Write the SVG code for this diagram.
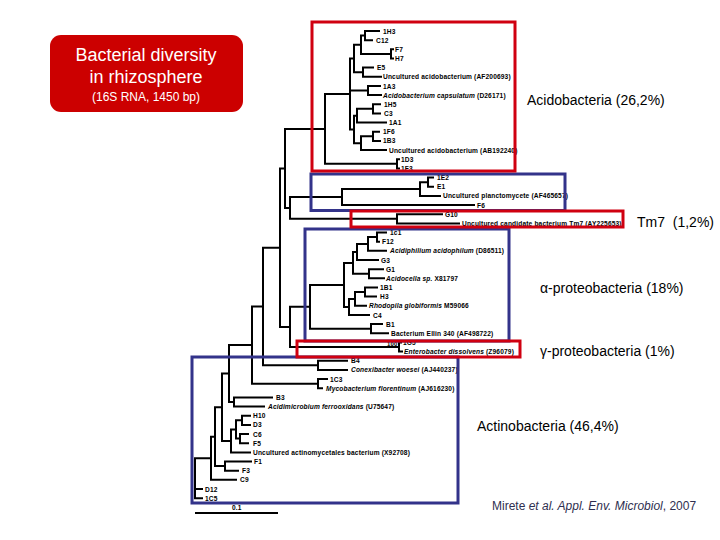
<svg xmlns="http://www.w3.org/2000/svg" width="720" height="540" viewBox="0 0 720 540">
<style>
.br{stroke:#000;stroke-width:2;fill:none;stroke-linecap:square}
.lf{font-family:"Liberation Sans",Arial,sans-serif;font-size:6.6px;font-weight:bold;letter-spacing:0.15px;fill:#000}
.big{font-family:"Liberation Sans",Arial,sans-serif;font-size:14px;fill:#000}
.rb{fill:none;stroke:#d00010;stroke-width:3}
.bb{fill:none;stroke:#33338a;stroke-width:3}
.tt{font-family:"Liberation Sans",Arial,sans-serif;fill:#fff;text-anchor:middle}
</style>
<rect width="720" height="540" fill="#fff"/>
<g id="title">
<rect x="50" y="35" width="193" height="77" rx="11" fill="#cc0000"/>
<text class="tt" x="146" y="61" font-size="18">Bacterial diversity</text>
<text class="tt" x="146" y="83" font-size="18">in rhizosphere</text>
<text class="tt" x="146" y="101" font-size="12">(16S RNA, 1450 bp)</text>
</g>
<g id="connectors" class="br">
<path d="M365 31V40.2M365 31H379M365 40.2H372"/>
<path d="M391 49.3V58.5M391 49.3H393M391 58.5H393"/>
<path d="M361 35.6V53.9M361 35.6H365M361 53.9H391"/>
<path d="M363 67.6V76.8M363 67.6H373M363 76.8H381"/>
<path d="M354 44.75V72.2M354 44.75H361M354 72.2H363"/>
<path d="M368 86V95.1M368 86H380M368 95.1H381"/>
<path d="M373 104.3V113.4M373 104.3H380M373 113.4H380"/>
<path d="M357 108.85V122.6M357 108.85H373M357 122.6H386"/>
<path d="M373 131.8V140.9M373 131.8H379M373 140.9H380"/>
<path d="M361 136.35V150.1M361 136.35H373M361 150.1H386"/>
<path d="M354 115.7V143.2M354 115.7H357M354 143.2H361"/>
<path d="M350 58.5V129.45M350 58.5H354M350 90.55H368M350 129.45H354"/>
<path d="M397 159.2V168.4M397 159.2H399M397 168.4H399"/>
<path d="M325 94V163.8M325 94H350M325 163.8H397"/>
<path d="M428 177.6V186.7M428 177.6H433M428 186.7H433"/>
<path d="M420 182.15V195.9M420 182.15H428M420 195.9H440"/>
<path d="M342 189V205M342 189H420M342 205H474"/>
<path d="M397 214.2V223.4M397 214.2H442M397 223.4H459"/>
<path d="M290 197V218.8M290 197H342M290 218.8H397"/>
<path d="M285 128.9V207.9M285 128.9H325M285 207.9H290"/>
<path d="M377 232.5V241.7M377 232.5H386M377 241.7H379"/>
<path d="M368 237.1V250.8M368 237.1H377M368 250.8H386"/>
<path d="M357 243.95V260M357 243.95H368M357 260H378"/>
<path d="M369 269.2V278.3M369 269.2H383M369 278.3H384"/>
<path d="M353 252V273.75M353 252H357M353 273.75H369"/>
<path d="M365 287.5V296.6M365 287.5H377M365 296.6H376"/>
<path d="M355 292.05V305.8M355 292.05H365M355 305.8H366"/>
<path d="M349 298.9V315M349 298.9H355M349 315H369"/>
<path d="M344 262.9V307M344 262.9H353M344 307H349"/>
<path d="M371 324.1V333.3M371 324.1H382M371 333.3H388"/>
<path d="M310 284.95V328.7M310 284.95H344M310 328.7H371"/>
<path d="M399 342.4V351.6M399 342.4H401M399 351.6H402"/>
<path d="M290 306.8V347M290 306.8H310M290 347H399"/>
<path d="M280 168.4V326.9M280 168.4H285M280 326.9H290"/>
<path d="M318 360.8V369.9M318 360.8H347M318 369.9H347"/>
<path d="M263 247.65V365.35M263 247.65H280M263 365.35H318"/>
<path d="M318 379.1V388.2M318 379.1H327M318 388.2H322"/>
<path d="M252 306.5V383.65M252 306.5H263M252 383.65H318"/>
<path d="M234 397.4V406.6M234 397.4H272M234 406.6H264"/>
<path d="M229 345.1V402M229 345.1H252M229 402H234"/>
<path d="M242 415.7V424.9M242 415.7H250M242 424.9H250"/>
<path d="M240 434V443.2M240 434H248M240 443.2H248"/>
<path d="M236 420.3V438.6M236 420.3H242M236 438.6H240"/>
<path d="M231 429.45V452.4M231 429.45H236M231 452.4H250"/>
<path d="M222 373.55V440.9M222 373.55H229M222 440.9H231"/>
<path d="M225 461.5V470.7M225 461.5H251M225 470.7H238"/>
<path d="M215 407.2V466.1M215 407.2H222M215 466.1H225"/>
<path d="M211 436.65V479.8M211 436.65H215M211 479.8H236"/>
<path d="M195 458.2V498.2M195 458.2H211M195 489H202M195 498.2H202"/>
<path d="M196 513H277"/>
</g>
<g id="leaves" class="lf">
<text id="n1H3" x="383" y="33.5">1H3</text>
<text id="nC12" x="376" y="42.7">C12</text>
<text id="nF7" x="395" y="51.8">F7</text>
<text id="nH7" x="395" y="61">H7</text>
<text id="nE5" x="377" y="70.1">E5</text>
<text id="nAF200693" x="383" y="79.3">Uncultured acidobacterium (AF200693)</text>
<text id="n1A3" x="383" y="88.5">1A3</text>
<text id="nD26171" x="383" y="97.6"><tspan font-style="italic">Acidobacterium capsulatum</tspan> (D26171)</text>
<text id="n1H5" x="384" y="106.8">1H5</text>
<text id="nC3" x="384" y="115.9">C3</text>
<text id="n1A1" x="389" y="125.1">1A1</text>
<text id="n1F6" x="383" y="134.3">1F6</text>
<text id="n1B3" x="383" y="143.4">1B3</text>
<text id="nAB192240" x="389" y="152.6">Uncultured acidobacterium (AB192240)</text>
<text id="n1D3" x="401" y="161.7">1D3</text>
<text id="n1F3" x="401" y="170.9">1F3</text>
<text id="n1E2" x="437" y="180.1">1E2</text>
<text id="nE1" x="437" y="189.2">E1</text>
<text id="nAF465657" x="443" y="198.4">Uncultured planctomycete (AF465657)</text>
<text id="nF6" x="477" y="207.5">F6</text>
<text id="nG10" x="445" y="216.7">G10</text>
<text id="nAY225653" x="462" y="225.9">Uncultured candidate bacterium Tm7 (AY225653)</text>
<text id="n1c1" x="390" y="235">1c1</text>
<text id="nF12" x="382" y="244.2">F12</text>
<text id="nD86511" x="390" y="253.3"><tspan font-style="italic">Acidiphilium acidophilum</tspan> (D86511)</text>
<text id="nG3" x="381" y="262.5">G3</text>
<text id="nG1" x="386" y="271.7">G1</text>
<text id="nX81797" x="386" y="280.8"><tspan font-style="italic">Acidocella sp.</tspan> X81797</text>
<text id="n1B1" x="380" y="290">1B1</text>
<text id="nH3" x="380" y="299.1">H3</text>
<text id="nM59066" x="369" y="308.3"><tspan font-style="italic">Rhodopila globiformis</tspan> M59066</text>
<text id="nC4" x="373" y="317.5">C4</text>
<text id="nB1" x="386" y="326.6">B1</text>
<text id="nAF498722" x="391" y="335.8">Bacterium Ellin 340 (AF498722)</text>
<text id="n1G5" x="403" y="344.9">1G5</text>
<text x="387" y="346" font-size="6">100</text>
<text id="nZ96079" x="404" y="354.1"><tspan font-style="italic">Enterobacter dissolvens</tspan> (Z96079)</text>
<text id="nB4" x="351" y="363.3">B4</text>
<text id="nAJ440237" x="351" y="372.4"><tspan font-style="italic">Conexibacter woesei</tspan> (AJ440237)</text>
<text id="n1C3" x="330" y="381.6">1C3</text>
<text id="nAJ616230" x="326" y="390.7"><tspan font-style="italic">Mycobacterium florentinum</tspan> (AJ616230)</text>
<text id="nB3" x="276" y="399.9">B3</text>
<text id="nU75647" x="268" y="409.1"><tspan font-style="italic">Acidimicrobium ferrooxidans</tspan> (U75647)</text>
<text id="nH10" x="253" y="418.2">H10</text>
<text id="nD3" x="253" y="427.4">D3</text>
<text id="nC6" x="253" y="436.5">C6</text>
<text id="nF5" x="253" y="445.7">F5</text>
<text id="nX92708" x="253" y="454.9">Uncultured actinomycetales bacterium (X92708)</text>
<text id="nF1" x="254" y="464">F1</text>
<text id="nF3" x="242" y="473.2">F3</text>
<text id="nC9" x="240" y="482.3">C9</text>
<text id="nD12" x="205" y="491.5">D12</text>
<text id="n1C5" x="205" y="500.7">1C5</text>
<text id="scale" x="232" y="509.5">0.1</text>
</g>
<g id="clades">
<rect id="boxPlancto" class="bb" x="311" y="174" width="254" height="36.5"/>
<rect id="boxAlpha" class="bb" x="305" y="229" width="204" height="112"/>
<rect id="boxActino" class="bb" x="192" y="357" width="266" height="146"/>
<rect id="boxAcido" class="rb" x="312" y="22" width="203" height="149"/>
<rect id="boxTm7" class="rb" x="351" y="211" width="272" height="16"/>
<rect id="boxGamma" class="rb" x="297" y="341" width="223" height="16"/>
</g>
<g id="groupLabels" class="big">
<text x="527" y="105">Acidobacteria (26,2%)</text>
<text x="637" y="227" xml:space="preserve">Tm7  (1,2%)</text>
<text x="540" y="293">α-proteobacteria (18%)</text>
<text x="540" y="356">γ-proteobacteria (1%)</text>
<text x="477" y="431">Actinobacteria (46,4%)</text>
</g>
<g id="citation">
<text x="492" y="510" font-family="Liberation Sans, Arial, sans-serif" font-size="12" fill="#2f2f50">Mirete <tspan font-style="italic">et al. Appl. Env. Microbiol</tspan>, 2007</text>
</g>
</svg>
